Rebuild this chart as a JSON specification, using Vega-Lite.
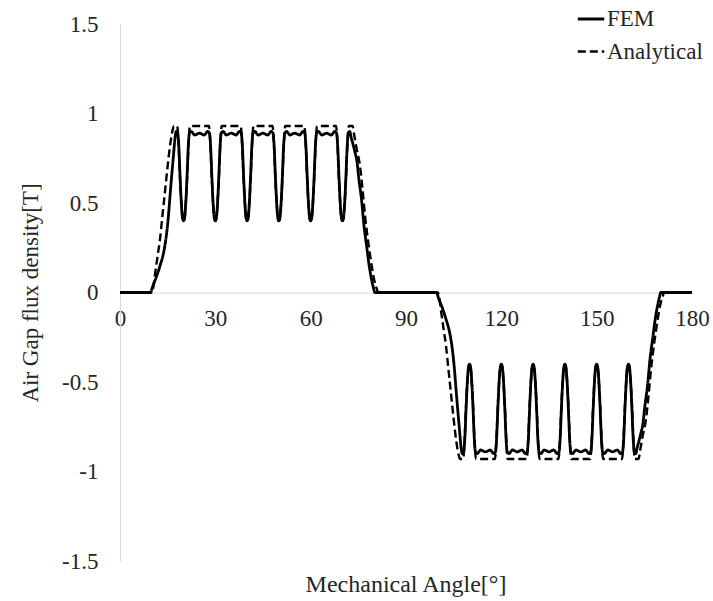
{
  "$schema": "https://vega.github.io/schema/vega-lite/v6.json",
  "autosize": {"type": "none"},
  "padding": {"left": 120, "top": 24, "right": 21, "bottom": 40},
  "width": 572,
  "height": 537,
  "background": "white",
  "config": {
    "view": {"stroke": null},
    "font": "Liberation Serif",
    "axis": {"labelFont": "Liberation Serif", "titleFont": "Liberation Serif", "labelColor": "#262626", "titleColor": "#262626", "titleFontWeight": "normal"}
  },
  "title": {
    "text": "Mechanical Angle[°]",
    "orient": "bottom",
    "anchor": "middle",
    "frame": "group",
    "offset": 0,
    "font": "Liberation Serif",
    "fontSize": 24,
    "fontWeight": "normal",
    "color": "#262626"
  },
  "data": {
    "values": [
      {"angle": 0, "B": 0, "series": "Analytical"},
      {"angle": 10, "B": 0, "series": "Analytical"},
      {"angle": 10.5, "B": 0.03, "series": "Analytical"},
      {"angle": 11, "B": 0.1, "series": "Analytical"},
      {"angle": 11.8, "B": 0.2, "series": "Analytical"},
      {"angle": 12.6, "B": 0.3, "series": "Analytical"},
      {"angle": 13.3, "B": 0.42, "series": "Analytical"},
      {"angle": 13.9, "B": 0.52, "series": "Analytical"},
      {"angle": 14.6, "B": 0.64, "series": "Analytical"},
      {"angle": 15.2, "B": 0.74, "series": "Analytical"},
      {"angle": 15.9, "B": 0.84, "series": "Analytical"},
      {"angle": 16.6, "B": 0.91, "series": "Analytical"},
      {"angle": 17, "B": 0.93, "series": "Analytical"},
      {"angle": 18, "B": 0.93, "series": "Analytical"},
      {"angle": 18.4, "B": 0.84, "series": "Analytical"},
      {"angle": 18.85, "B": 0.65, "series": "Analytical"},
      {"angle": 19.3, "B": 0.5, "series": "Analytical"},
      {"angle": 19.65, "B": 0.42, "series": "Analytical"},
      {"angle": 20, "B": 0.4, "series": "Analytical"},
      {"angle": 20.35, "B": 0.42, "series": "Analytical"},
      {"angle": 20.7, "B": 0.5, "series": "Analytical"},
      {"angle": 21.15, "B": 0.65, "series": "Analytical"},
      {"angle": 21.6, "B": 0.84, "series": "Analytical"},
      {"angle": 22, "B": 0.93, "series": "Analytical"},
      {"angle": 28, "B": 0.93, "series": "Analytical"},
      {"angle": 28.4, "B": 0.84, "series": "Analytical"},
      {"angle": 28.85, "B": 0.65, "series": "Analytical"},
      {"angle": 29.3, "B": 0.5, "series": "Analytical"},
      {"angle": 29.65, "B": 0.42, "series": "Analytical"},
      {"angle": 30, "B": 0.4, "series": "Analytical"},
      {"angle": 30.35, "B": 0.42, "series": "Analytical"},
      {"angle": 30.7, "B": 0.5, "series": "Analytical"},
      {"angle": 31.15, "B": 0.65, "series": "Analytical"},
      {"angle": 31.6, "B": 0.84, "series": "Analytical"},
      {"angle": 32, "B": 0.93, "series": "Analytical"},
      {"angle": 38, "B": 0.93, "series": "Analytical"},
      {"angle": 38.4, "B": 0.84, "series": "Analytical"},
      {"angle": 38.85, "B": 0.65, "series": "Analytical"},
      {"angle": 39.3, "B": 0.5, "series": "Analytical"},
      {"angle": 39.65, "B": 0.42, "series": "Analytical"},
      {"angle": 40, "B": 0.4, "series": "Analytical"},
      {"angle": 40.35, "B": 0.42, "series": "Analytical"},
      {"angle": 40.7, "B": 0.5, "series": "Analytical"},
      {"angle": 41.15, "B": 0.65, "series": "Analytical"},
      {"angle": 41.6, "B": 0.84, "series": "Analytical"},
      {"angle": 42, "B": 0.93, "series": "Analytical"},
      {"angle": 48, "B": 0.93, "series": "Analytical"},
      {"angle": 48.4, "B": 0.84, "series": "Analytical"},
      {"angle": 48.85, "B": 0.65, "series": "Analytical"},
      {"angle": 49.3, "B": 0.5, "series": "Analytical"},
      {"angle": 49.65, "B": 0.42, "series": "Analytical"},
      {"angle": 50, "B": 0.4, "series": "Analytical"},
      {"angle": 50.35, "B": 0.42, "series": "Analytical"},
      {"angle": 50.7, "B": 0.5, "series": "Analytical"},
      {"angle": 51.15, "B": 0.65, "series": "Analytical"},
      {"angle": 51.6, "B": 0.84, "series": "Analytical"},
      {"angle": 52, "B": 0.93, "series": "Analytical"},
      {"angle": 58, "B": 0.93, "series": "Analytical"},
      {"angle": 58.4, "B": 0.84, "series": "Analytical"},
      {"angle": 58.85, "B": 0.65, "series": "Analytical"},
      {"angle": 59.3, "B": 0.5, "series": "Analytical"},
      {"angle": 59.65, "B": 0.42, "series": "Analytical"},
      {"angle": 60, "B": 0.4, "series": "Analytical"},
      {"angle": 60.35, "B": 0.42, "series": "Analytical"},
      {"angle": 60.7, "B": 0.5, "series": "Analytical"},
      {"angle": 61.15, "B": 0.65, "series": "Analytical"},
      {"angle": 61.6, "B": 0.84, "series": "Analytical"},
      {"angle": 62, "B": 0.93, "series": "Analytical"},
      {"angle": 68, "B": 0.93, "series": "Analytical"},
      {"angle": 68.4, "B": 0.84, "series": "Analytical"},
      {"angle": 68.85, "B": 0.65, "series": "Analytical"},
      {"angle": 69.3, "B": 0.5, "series": "Analytical"},
      {"angle": 69.65, "B": 0.42, "series": "Analytical"},
      {"angle": 70, "B": 0.4, "series": "Analytical"},
      {"angle": 70.35, "B": 0.42, "series": "Analytical"},
      {"angle": 70.7, "B": 0.5, "series": "Analytical"},
      {"angle": 71.15, "B": 0.65, "series": "Analytical"},
      {"angle": 71.6, "B": 0.84, "series": "Analytical"},
      {"angle": 72, "B": 0.93, "series": "Analytical"},
      {"angle": 73.2, "B": 0.93, "series": "Analytical"},
      {"angle": 73.7, "B": 0.88, "series": "Analytical"},
      {"angle": 74.5, "B": 0.8, "series": "Analytical"},
      {"angle": 75.5, "B": 0.71, "series": "Analytical"},
      {"angle": 76.3, "B": 0.58, "series": "Analytical"},
      {"angle": 77.1, "B": 0.43, "series": "Analytical"},
      {"angle": 78.2, "B": 0.27, "series": "Analytical"},
      {"angle": 79.2, "B": 0.15, "series": "Analytical"},
      {"angle": 80, "B": 0.07, "series": "Analytical"},
      {"angle": 80.8, "B": 0.02, "series": "Analytical"},
      {"angle": 81.3, "B": 0, "series": "Analytical"},
      {"angle": 100, "B": 0, "series": "Analytical"},
      {"angle": 100.5, "B": -0.03, "series": "Analytical"},
      {"angle": 101, "B": -0.1, "series": "Analytical"},
      {"angle": 101.8, "B": -0.2, "series": "Analytical"},
      {"angle": 102.6, "B": -0.3, "series": "Analytical"},
      {"angle": 103.3, "B": -0.42, "series": "Analytical"},
      {"angle": 103.9, "B": -0.52, "series": "Analytical"},
      {"angle": 104.6, "B": -0.64, "series": "Analytical"},
      {"angle": 105.2, "B": -0.74, "series": "Analytical"},
      {"angle": 105.9, "B": -0.84, "series": "Analytical"},
      {"angle": 106.6, "B": -0.91, "series": "Analytical"},
      {"angle": 107, "B": -0.93, "series": "Analytical"},
      {"angle": 108, "B": -0.93, "series": "Analytical"},
      {"angle": 108.4, "B": -0.84, "series": "Analytical"},
      {"angle": 108.85, "B": -0.65, "series": "Analytical"},
      {"angle": 109.3, "B": -0.5, "series": "Analytical"},
      {"angle": 109.65, "B": -0.42, "series": "Analytical"},
      {"angle": 110, "B": -0.4, "series": "Analytical"},
      {"angle": 110.35, "B": -0.42, "series": "Analytical"},
      {"angle": 110.7, "B": -0.5, "series": "Analytical"},
      {"angle": 111.15, "B": -0.65, "series": "Analytical"},
      {"angle": 111.6, "B": -0.84, "series": "Analytical"},
      {"angle": 112, "B": -0.93, "series": "Analytical"},
      {"angle": 118, "B": -0.93, "series": "Analytical"},
      {"angle": 118.4, "B": -0.84, "series": "Analytical"},
      {"angle": 118.85, "B": -0.65, "series": "Analytical"},
      {"angle": 119.3, "B": -0.5, "series": "Analytical"},
      {"angle": 119.65, "B": -0.42, "series": "Analytical"},
      {"angle": 120, "B": -0.4, "series": "Analytical"},
      {"angle": 120.35, "B": -0.42, "series": "Analytical"},
      {"angle": 120.7, "B": -0.5, "series": "Analytical"},
      {"angle": 121.15, "B": -0.65, "series": "Analytical"},
      {"angle": 121.6, "B": -0.84, "series": "Analytical"},
      {"angle": 122, "B": -0.93, "series": "Analytical"},
      {"angle": 128, "B": -0.93, "series": "Analytical"},
      {"angle": 128.4, "B": -0.84, "series": "Analytical"},
      {"angle": 128.85, "B": -0.65, "series": "Analytical"},
      {"angle": 129.3, "B": -0.5, "series": "Analytical"},
      {"angle": 129.65, "B": -0.42, "series": "Analytical"},
      {"angle": 130, "B": -0.4, "series": "Analytical"},
      {"angle": 130.35, "B": -0.42, "series": "Analytical"},
      {"angle": 130.7, "B": -0.5, "series": "Analytical"},
      {"angle": 131.15, "B": -0.65, "series": "Analytical"},
      {"angle": 131.6, "B": -0.84, "series": "Analytical"},
      {"angle": 132, "B": -0.93, "series": "Analytical"},
      {"angle": 138, "B": -0.93, "series": "Analytical"},
      {"angle": 138.4, "B": -0.84, "series": "Analytical"},
      {"angle": 138.85, "B": -0.65, "series": "Analytical"},
      {"angle": 139.3, "B": -0.5, "series": "Analytical"},
      {"angle": 139.65, "B": -0.42, "series": "Analytical"},
      {"angle": 140, "B": -0.4, "series": "Analytical"},
      {"angle": 140.35, "B": -0.42, "series": "Analytical"},
      {"angle": 140.7, "B": -0.5, "series": "Analytical"},
      {"angle": 141.15, "B": -0.65, "series": "Analytical"},
      {"angle": 141.6, "B": -0.84, "series": "Analytical"},
      {"angle": 142, "B": -0.93, "series": "Analytical"},
      {"angle": 148, "B": -0.93, "series": "Analytical"},
      {"angle": 148.4, "B": -0.84, "series": "Analytical"},
      {"angle": 148.85, "B": -0.65, "series": "Analytical"},
      {"angle": 149.3, "B": -0.5, "series": "Analytical"},
      {"angle": 149.65, "B": -0.42, "series": "Analytical"},
      {"angle": 150, "B": -0.4, "series": "Analytical"},
      {"angle": 150.35, "B": -0.42, "series": "Analytical"},
      {"angle": 150.7, "B": -0.5, "series": "Analytical"},
      {"angle": 151.15, "B": -0.65, "series": "Analytical"},
      {"angle": 151.6, "B": -0.84, "series": "Analytical"},
      {"angle": 152, "B": -0.93, "series": "Analytical"},
      {"angle": 158, "B": -0.93, "series": "Analytical"},
      {"angle": 158.4, "B": -0.84, "series": "Analytical"},
      {"angle": 158.85, "B": -0.65, "series": "Analytical"},
      {"angle": 159.3, "B": -0.5, "series": "Analytical"},
      {"angle": 159.65, "B": -0.42, "series": "Analytical"},
      {"angle": 160, "B": -0.4, "series": "Analytical"},
      {"angle": 160.35, "B": -0.42, "series": "Analytical"},
      {"angle": 160.7, "B": -0.5, "series": "Analytical"},
      {"angle": 161.15, "B": -0.65, "series": "Analytical"},
      {"angle": 161.6, "B": -0.84, "series": "Analytical"},
      {"angle": 162, "B": -0.93, "series": "Analytical"},
      {"angle": 163.2, "B": -0.93, "series": "Analytical"},
      {"angle": 163.7, "B": -0.88, "series": "Analytical"},
      {"angle": 164.5, "B": -0.8, "series": "Analytical"},
      {"angle": 165.5, "B": -0.71, "series": "Analytical"},
      {"angle": 166.3, "B": -0.58, "series": "Analytical"},
      {"angle": 167.1, "B": -0.43, "series": "Analytical"},
      {"angle": 168.2, "B": -0.27, "series": "Analytical"},
      {"angle": 169.2, "B": -0.15, "series": "Analytical"},
      {"angle": 170, "B": -0.07, "series": "Analytical"},
      {"angle": 170.8, "B": -0.02, "series": "Analytical"},
      {"angle": 171.3, "B": 0, "series": "Analytical"},
      {"angle": 180, "B": 0, "series": "Analytical"},

      {"angle": 0, "B": 0, "series": "FEM"},
      {"angle": 9.6, "B": 0, "series": "FEM"},
      {"angle": 10.2, "B": 0.03, "series": "FEM"},
      {"angle": 11.5, "B": 0.09, "series": "FEM"},
      {"angle": 12.6, "B": 0.15, "series": "FEM"},
      {"angle": 13.8, "B": 0.23, "series": "FEM"},
      {"angle": 14.6, "B": 0.32, "series": "FEM"},
      {"angle": 15.2, "B": 0.42, "series": "FEM"},
      {"angle": 15.7, "B": 0.53, "series": "FEM"},
      {"angle": 16.3, "B": 0.66, "series": "FEM"},
      {"angle": 16.8, "B": 0.76, "series": "FEM"},
      {"angle": 17.3, "B": 0.86, "series": "FEM"},
      {"angle": 17.7, "B": 0.9, "series": "FEM"},
      {"angle": 18.15, "B": 0.89, "series": "FEM"},
      {"angle": 18.5, "B": 0.82, "series": "FEM"},
      {"angle": 18.9, "B": 0.65, "series": "FEM"},
      {"angle": 19.3, "B": 0.5, "series": "FEM"},
      {"angle": 19.65, "B": 0.42, "series": "FEM"},
      {"angle": 20, "B": 0.4, "series": "FEM"},
      {"angle": 20.35, "B": 0.42, "series": "FEM"},
      {"angle": 20.7, "B": 0.5, "series": "FEM"},
      {"angle": 21.1, "B": 0.65, "series": "FEM"},
      {"angle": 21.5, "B": 0.82, "series": "FEM"},
      {"angle": 21.85, "B": 0.89, "series": "FEM"},
      {"angle": 22.4, "B": 0.9, "series": "FEM"},
      {"angle": 23.5, "B": 0.88, "series": "FEM"},
      {"angle": 25, "B": 0.89, "series": "FEM"},
      {"angle": 26.5, "B": 0.88, "series": "FEM"},
      {"angle": 27.6, "B": 0.9, "series": "FEM"},
      {"angle": 28.15, "B": 0.89, "series": "FEM"},
      {"angle": 28.5, "B": 0.82, "series": "FEM"},
      {"angle": 28.9, "B": 0.65, "series": "FEM"},
      {"angle": 29.3, "B": 0.5, "series": "FEM"},
      {"angle": 29.65, "B": 0.42, "series": "FEM"},
      {"angle": 30, "B": 0.4, "series": "FEM"},
      {"angle": 30.35, "B": 0.42, "series": "FEM"},
      {"angle": 30.7, "B": 0.5, "series": "FEM"},
      {"angle": 31.1, "B": 0.65, "series": "FEM"},
      {"angle": 31.5, "B": 0.82, "series": "FEM"},
      {"angle": 31.85, "B": 0.89, "series": "FEM"},
      {"angle": 32.4, "B": 0.9, "series": "FEM"},
      {"angle": 33.5, "B": 0.88, "series": "FEM"},
      {"angle": 35, "B": 0.89, "series": "FEM"},
      {"angle": 36.5, "B": 0.88, "series": "FEM"},
      {"angle": 37.6, "B": 0.9, "series": "FEM"},
      {"angle": 38.15, "B": 0.89, "series": "FEM"},
      {"angle": 38.5, "B": 0.82, "series": "FEM"},
      {"angle": 38.9, "B": 0.65, "series": "FEM"},
      {"angle": 39.3, "B": 0.5, "series": "FEM"},
      {"angle": 39.65, "B": 0.42, "series": "FEM"},
      {"angle": 40, "B": 0.4, "series": "FEM"},
      {"angle": 40.35, "B": 0.42, "series": "FEM"},
      {"angle": 40.7, "B": 0.5, "series": "FEM"},
      {"angle": 41.1, "B": 0.65, "series": "FEM"},
      {"angle": 41.5, "B": 0.82, "series": "FEM"},
      {"angle": 41.85, "B": 0.89, "series": "FEM"},
      {"angle": 42.4, "B": 0.9, "series": "FEM"},
      {"angle": 43.5, "B": 0.88, "series": "FEM"},
      {"angle": 45, "B": 0.89, "series": "FEM"},
      {"angle": 46.5, "B": 0.88, "series": "FEM"},
      {"angle": 47.6, "B": 0.9, "series": "FEM"},
      {"angle": 48.15, "B": 0.89, "series": "FEM"},
      {"angle": 48.5, "B": 0.82, "series": "FEM"},
      {"angle": 48.9, "B": 0.65, "series": "FEM"},
      {"angle": 49.3, "B": 0.5, "series": "FEM"},
      {"angle": 49.65, "B": 0.42, "series": "FEM"},
      {"angle": 50, "B": 0.4, "series": "FEM"},
      {"angle": 50.35, "B": 0.42, "series": "FEM"},
      {"angle": 50.7, "B": 0.5, "series": "FEM"},
      {"angle": 51.1, "B": 0.65, "series": "FEM"},
      {"angle": 51.5, "B": 0.82, "series": "FEM"},
      {"angle": 51.85, "B": 0.89, "series": "FEM"},
      {"angle": 52.4, "B": 0.9, "series": "FEM"},
      {"angle": 53.5, "B": 0.88, "series": "FEM"},
      {"angle": 55, "B": 0.89, "series": "FEM"},
      {"angle": 56.5, "B": 0.88, "series": "FEM"},
      {"angle": 57.6, "B": 0.9, "series": "FEM"},
      {"angle": 58.15, "B": 0.89, "series": "FEM"},
      {"angle": 58.5, "B": 0.82, "series": "FEM"},
      {"angle": 58.9, "B": 0.65, "series": "FEM"},
      {"angle": 59.3, "B": 0.5, "series": "FEM"},
      {"angle": 59.65, "B": 0.42, "series": "FEM"},
      {"angle": 60, "B": 0.4, "series": "FEM"},
      {"angle": 60.35, "B": 0.42, "series": "FEM"},
      {"angle": 60.7, "B": 0.5, "series": "FEM"},
      {"angle": 61.1, "B": 0.65, "series": "FEM"},
      {"angle": 61.5, "B": 0.82, "series": "FEM"},
      {"angle": 61.85, "B": 0.89, "series": "FEM"},
      {"angle": 62.4, "B": 0.9, "series": "FEM"},
      {"angle": 63.5, "B": 0.88, "series": "FEM"},
      {"angle": 65, "B": 0.89, "series": "FEM"},
      {"angle": 66.5, "B": 0.88, "series": "FEM"},
      {"angle": 67.6, "B": 0.9, "series": "FEM"},
      {"angle": 68.15, "B": 0.89, "series": "FEM"},
      {"angle": 68.5, "B": 0.82, "series": "FEM"},
      {"angle": 68.9, "B": 0.65, "series": "FEM"},
      {"angle": 69.3, "B": 0.5, "series": "FEM"},
      {"angle": 69.65, "B": 0.42, "series": "FEM"},
      {"angle": 70, "B": 0.4, "series": "FEM"},
      {"angle": 70.35, "B": 0.42, "series": "FEM"},
      {"angle": 70.7, "B": 0.5, "series": "FEM"},
      {"angle": 71.1, "B": 0.65, "series": "FEM"},
      {"angle": 71.5, "B": 0.82, "series": "FEM"},
      {"angle": 71.85, "B": 0.89, "series": "FEM"},
      {"angle": 72.3, "B": 0.9, "series": "FEM"},
      {"angle": 72.7, "B": 0.87, "series": "FEM"},
      {"angle": 73.3, "B": 0.83, "series": "FEM"},
      {"angle": 74, "B": 0.78, "series": "FEM"},
      {"angle": 74.5, "B": 0.74, "series": "FEM"},
      {"angle": 75.2, "B": 0.63, "series": "FEM"},
      {"angle": 76, "B": 0.52, "series": "FEM"},
      {"angle": 76.8, "B": 0.37, "series": "FEM"},
      {"angle": 77.6, "B": 0.26, "series": "FEM"},
      {"angle": 78.5, "B": 0.14, "series": "FEM"},
      {"angle": 79.2, "B": 0.07, "series": "FEM"},
      {"angle": 79.7, "B": 0.03, "series": "FEM"},
      {"angle": 80.2, "B": 0, "series": "FEM"},
      {"angle": 99.6, "B": 0, "series": "FEM"},
      {"angle": 100.2, "B": -0.03, "series": "FEM"},
      {"angle": 101.5, "B": -0.09, "series": "FEM"},
      {"angle": 102.6, "B": -0.15, "series": "FEM"},
      {"angle": 103.8, "B": -0.23, "series": "FEM"},
      {"angle": 104.6, "B": -0.32, "series": "FEM"},
      {"angle": 105.2, "B": -0.42, "series": "FEM"},
      {"angle": 105.7, "B": -0.53, "series": "FEM"},
      {"angle": 106.3, "B": -0.66, "series": "FEM"},
      {"angle": 106.8, "B": -0.76, "series": "FEM"},
      {"angle": 107.3, "B": -0.86, "series": "FEM"},
      {"angle": 107.7, "B": -0.9, "series": "FEM"},
      {"angle": 108.15, "B": -0.89, "series": "FEM"},
      {"angle": 108.5, "B": -0.82, "series": "FEM"},
      {"angle": 108.9, "B": -0.65, "series": "FEM"},
      {"angle": 109.3, "B": -0.5, "series": "FEM"},
      {"angle": 109.65, "B": -0.42, "series": "FEM"},
      {"angle": 110, "B": -0.4, "series": "FEM"},
      {"angle": 110.35, "B": -0.42, "series": "FEM"},
      {"angle": 110.7, "B": -0.5, "series": "FEM"},
      {"angle": 111.1, "B": -0.65, "series": "FEM"},
      {"angle": 111.5, "B": -0.82, "series": "FEM"},
      {"angle": 111.85, "B": -0.89, "series": "FEM"},
      {"angle": 112.4, "B": -0.9, "series": "FEM"},
      {"angle": 113.5, "B": -0.88, "series": "FEM"},
      {"angle": 115, "B": -0.89, "series": "FEM"},
      {"angle": 116.5, "B": -0.88, "series": "FEM"},
      {"angle": 117.6, "B": -0.9, "series": "FEM"},
      {"angle": 118.15, "B": -0.89, "series": "FEM"},
      {"angle": 118.5, "B": -0.82, "series": "FEM"},
      {"angle": 118.9, "B": -0.65, "series": "FEM"},
      {"angle": 119.3, "B": -0.5, "series": "FEM"},
      {"angle": 119.65, "B": -0.42, "series": "FEM"},
      {"angle": 120, "B": -0.4, "series": "FEM"},
      {"angle": 120.35, "B": -0.42, "series": "FEM"},
      {"angle": 120.7, "B": -0.5, "series": "FEM"},
      {"angle": 121.1, "B": -0.65, "series": "FEM"},
      {"angle": 121.5, "B": -0.82, "series": "FEM"},
      {"angle": 121.85, "B": -0.89, "series": "FEM"},
      {"angle": 122.4, "B": -0.9, "series": "FEM"},
      {"angle": 123.5, "B": -0.88, "series": "FEM"},
      {"angle": 125, "B": -0.89, "series": "FEM"},
      {"angle": 126.5, "B": -0.88, "series": "FEM"},
      {"angle": 127.6, "B": -0.9, "series": "FEM"},
      {"angle": 128.15, "B": -0.89, "series": "FEM"},
      {"angle": 128.5, "B": -0.82, "series": "FEM"},
      {"angle": 128.9, "B": -0.65, "series": "FEM"},
      {"angle": 129.3, "B": -0.5, "series": "FEM"},
      {"angle": 129.65, "B": -0.42, "series": "FEM"},
      {"angle": 130, "B": -0.4, "series": "FEM"},
      {"angle": 130.35, "B": -0.42, "series": "FEM"},
      {"angle": 130.7, "B": -0.5, "series": "FEM"},
      {"angle": 131.1, "B": -0.65, "series": "FEM"},
      {"angle": 131.5, "B": -0.82, "series": "FEM"},
      {"angle": 131.85, "B": -0.89, "series": "FEM"},
      {"angle": 132.4, "B": -0.9, "series": "FEM"},
      {"angle": 133.5, "B": -0.88, "series": "FEM"},
      {"angle": 135, "B": -0.89, "series": "FEM"},
      {"angle": 136.5, "B": -0.88, "series": "FEM"},
      {"angle": 137.6, "B": -0.9, "series": "FEM"},
      {"angle": 138.15, "B": -0.89, "series": "FEM"},
      {"angle": 138.5, "B": -0.82, "series": "FEM"},
      {"angle": 138.9, "B": -0.65, "series": "FEM"},
      {"angle": 139.3, "B": -0.5, "series": "FEM"},
      {"angle": 139.65, "B": -0.42, "series": "FEM"},
      {"angle": 140, "B": -0.4, "series": "FEM"},
      {"angle": 140.35, "B": -0.42, "series": "FEM"},
      {"angle": 140.7, "B": -0.5, "series": "FEM"},
      {"angle": 141.1, "B": -0.65, "series": "FEM"},
      {"angle": 141.5, "B": -0.82, "series": "FEM"},
      {"angle": 141.85, "B": -0.89, "series": "FEM"},
      {"angle": 142.4, "B": -0.9, "series": "FEM"},
      {"angle": 143.5, "B": -0.88, "series": "FEM"},
      {"angle": 145, "B": -0.89, "series": "FEM"},
      {"angle": 146.5, "B": -0.88, "series": "FEM"},
      {"angle": 147.6, "B": -0.9, "series": "FEM"},
      {"angle": 148.15, "B": -0.89, "series": "FEM"},
      {"angle": 148.5, "B": -0.82, "series": "FEM"},
      {"angle": 148.9, "B": -0.65, "series": "FEM"},
      {"angle": 149.3, "B": -0.5, "series": "FEM"},
      {"angle": 149.65, "B": -0.42, "series": "FEM"},
      {"angle": 150, "B": -0.4, "series": "FEM"},
      {"angle": 150.35, "B": -0.42, "series": "FEM"},
      {"angle": 150.7, "B": -0.5, "series": "FEM"},
      {"angle": 151.1, "B": -0.65, "series": "FEM"},
      {"angle": 151.5, "B": -0.82, "series": "FEM"},
      {"angle": 151.85, "B": -0.89, "series": "FEM"},
      {"angle": 152.4, "B": -0.9, "series": "FEM"},
      {"angle": 153.5, "B": -0.88, "series": "FEM"},
      {"angle": 155, "B": -0.89, "series": "FEM"},
      {"angle": 156.5, "B": -0.88, "series": "FEM"},
      {"angle": 157.6, "B": -0.9, "series": "FEM"},
      {"angle": 158.15, "B": -0.89, "series": "FEM"},
      {"angle": 158.5, "B": -0.82, "series": "FEM"},
      {"angle": 158.9, "B": -0.65, "series": "FEM"},
      {"angle": 159.3, "B": -0.5, "series": "FEM"},
      {"angle": 159.65, "B": -0.42, "series": "FEM"},
      {"angle": 160, "B": -0.4, "series": "FEM"},
      {"angle": 160.35, "B": -0.42, "series": "FEM"},
      {"angle": 160.7, "B": -0.5, "series": "FEM"},
      {"angle": 161.1, "B": -0.65, "series": "FEM"},
      {"angle": 161.5, "B": -0.82, "series": "FEM"},
      {"angle": 161.85, "B": -0.89, "series": "FEM"},
      {"angle": 162.3, "B": -0.9, "series": "FEM"},
      {"angle": 162.7, "B": -0.87, "series": "FEM"},
      {"angle": 163.3, "B": -0.83, "series": "FEM"},
      {"angle": 164, "B": -0.78, "series": "FEM"},
      {"angle": 164.5, "B": -0.74, "series": "FEM"},
      {"angle": 165.2, "B": -0.63, "series": "FEM"},
      {"angle": 166, "B": -0.52, "series": "FEM"},
      {"angle": 166.8, "B": -0.37, "series": "FEM"},
      {"angle": 167.6, "B": -0.26, "series": "FEM"},
      {"angle": 168.5, "B": -0.14, "series": "FEM"},
      {"angle": 169.2, "B": -0.07, "series": "FEM"},
      {"angle": 169.7, "B": -0.03, "series": "FEM"},
      {"angle": 170.2, "B": 0, "series": "FEM"},
      {"angle": 180, "B": 0, "series": "FEM"}
    ]
  },
  "mark": {"type": "line", "color": "black", "interpolate": "monotone"},
  "encoding": {
    "x": {
      "field": "angle",
      "type": "quantitative",
      "scale": {"domain": [0, 180], "nice": false, "zero": false},
      "axis": {
        "values": [0, 30, 60, 90, 120, 150, 180],
        "offset": -268.5,
        "title": null,
        "ticks": false,
        "grid": false,
        "domainColor": "#d9d9d9",
        "domainWidth": 1,
        "labelFontSize": 23,
        "labelPadding": 15,
        "labelFlush": false
      }
    },
    "y": {
      "field": "B",
      "type": "quantitative",
      "scale": {"domain": [-1.5, 1.5], "nice": false},
      "axis": {
        "values": [-1.5, -1, -0.5, 0, 0.5, 1, 1.5],
        "labelExpr": "toString(datum.value)",
        "title": "Air Gap flux density[T]",
        "ticks": false,
        "grid": false,
        "domainColor": "#d9d9d9",
        "domainWidth": 1,
        "labelFontSize": 23,
        "labelPadding": 22,
        "titleFontSize": 23,
        "titlePadding": 19
      }
    },
    "strokeDash": {
      "field": "series",
      "type": "nominal",
      "scale": {"domain": ["FEM", "Analytical"], "range": [[1, 0], [8, 4]]},
      "legend": {
        "title": null,
        "orient": "none",
        "legendX": 456,
        "legendY": -20,
        "direction": "vertical",
        "symbolType": "stroke",
        "symbolSize": 700,
        "symbolStrokeWidth": 2.5,
        "symbolStrokeColor": "black",
        "labelFont": "Liberation Serif",
        "labelFontSize": 23,
        "labelColor": "#262626",
        "labelOffset": 1,
        "rowPadding": 6
      }
    },
    "strokeWidth": {
      "field": "series",
      "type": "nominal",
      "scale": {"domain": ["FEM", "Analytical"], "range": [2.8, 2.4]},
      "legend": null
    },
    "order": {"field": "angle", "type": "quantitative"}
  }
}
